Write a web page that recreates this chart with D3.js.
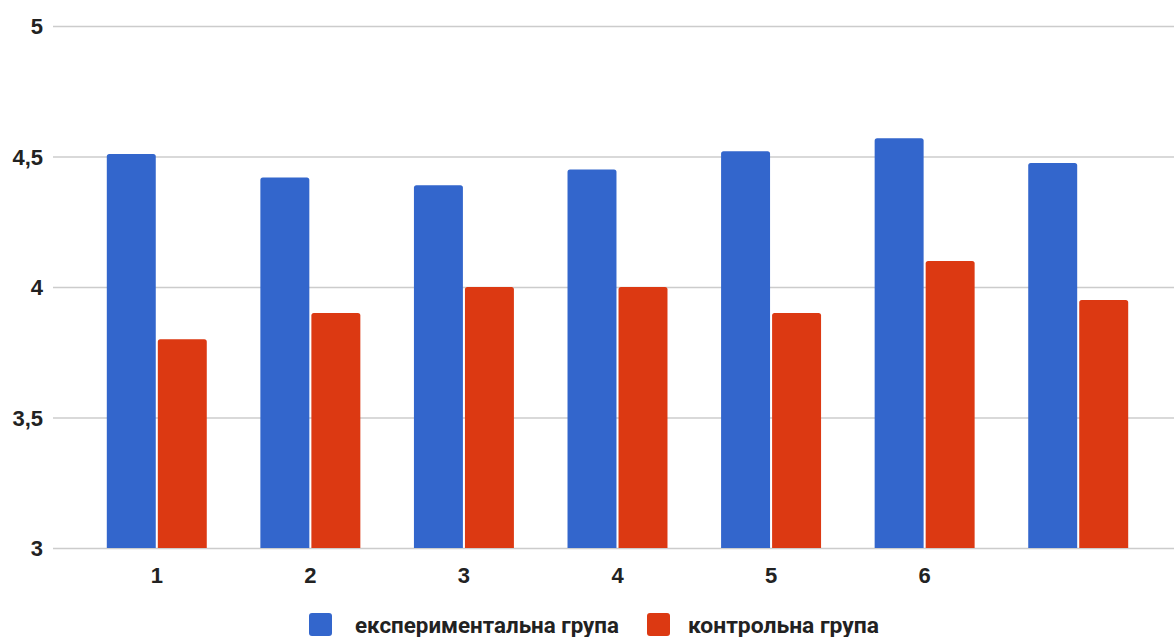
<!DOCTYPE html>
<html>
<head>
<meta charset="utf-8">
<script src="https://cdn.jsdelivr.net/npm/d3@7"></script>
<style>
  html, body { margin: 0; padding: 0; background: #fff; }
  svg { display: block; font-family: Roboto, "Noto Sans", sans-serif; }
</style>
</head>
<body>
<svg id="chart" width="1174" height="637"></svg>
<script>
const categories = ["1", "2", "3", "4", "5", "6", ""];
const seriesNames = ["експериментальна група", "контрольна група"];
const experimental = [4.51, 4.42, 4.39, 4.45, 4.52, 4.57, 4.475];
const control = [3.8, 3.9, 4.0, 4.0, 3.9, 4.1, 3.95];
const yTicks = [3, 3.5, 4, 4.5, 5];
const colors = ["#3366cc", "#dc3912"];

(function () {
const svg = d3.select("#chart");
const gridLeft = 53, gridRight = 1174;
const plotTop = 26, plotBottom = 548;

const x = d3.scaleBand().domain(categories).range([80, 1155])
  .paddingInner(0.349).paddingOuter(0.1745);
const x1 = d3.scaleBand().domain([0, 1]).range([0, x.bandwidth()]).paddingInner(0.04);
const y = d3.scaleLinear().domain([3, 5]).range([plotBottom, plotTop]);

const loc = d3.formatLocale({decimal: ",", thousands: " ", grouping: [3], currency: ["", ""]});
const fmt = loc.format("~g");

// Y axis with gridlines
const yAxis = svg.append("g")
  .attr("transform", `translate(${gridLeft},0)`)
  .call(d3.axisLeft(y).tickValues(yTicks).tickFormat(fmt)
    .tickSize(-(gridRight - gridLeft)).tickPadding(10));
yAxis.select(".domain").remove();
yAxis.selectAll(".tick line").attr("stroke", "#cccccc").attr("stroke-width", 1.5);
yAxis.selectAll(".tick text")
  .attr("fill", "#222").attr("font-size", 22).attr("font-weight", "bold")
  .attr("dy", "0.36em");

// Bars
function topRounded(x0, y0, w, h, r) {
  r = Math.min(r, w / 2, h);
  return `M${x0},${y0 + h}V${y0 + r}Q${x0},${y0} ${x0 + r},${y0}H${x0 + w - r}Q${x0 + w},${y0} ${x0 + w},${y0 + r}V${y0 + h}Z`;
}
const data = categories.map((c, i) => ({cat: c, vals: [experimental[i], control[i]]}));
const groups = svg.append("g").selectAll("g").data(data).join("g")
  .attr("transform", d => `translate(${x(d.cat)},0)`);
groups.selectAll("path").data(d => d.vals.map((v, s) => ({v, s}))).join("path")
  .attr("d", d => topRounded(x1(d.s), y(d.v), x1.bandwidth(), y(3) - y(d.v), 2.5))
  .attr("fill", d => colors[d.s]);

// X axis labels
const xAxis = svg.append("g")
  .attr("transform", `translate(0,${plotBottom})`)
  .call(d3.axisBottom(x).tickSize(0).tickPadding(19));
xAxis.select(".domain").remove();
xAxis.selectAll(".tick text")
  .attr("fill", "#222").attr("font-size", 22).attr("font-weight", "bold");

// Legend
const legendItems = [
  {name: seriesNames[0], color: colors[0], sx: 309, tx: 355, len: 264},
  {name: seriesNames[1], color: colors[1], sx: 647, tx: 688, len: 191}
];
const legend = svg.append("g");
legendItems.forEach(it => {
  legend.append("rect").attr("x", it.sx).attr("y", 613).attr("width", 23).attr("height", 23)
    .attr("rx", 3).attr("fill", it.color);
  legend.append("text").attr("x", it.tx).attr("y", 625).attr("dy", "0.36em")
    .attr("font-size", 22).attr("font-weight", "bold").attr("fill", "#222")
    .attr("textLength", it.len).attr("lengthAdjust", "spacingAndGlyphs")
    .text(it.name);
});
})();
</script>
</body>
</html>
